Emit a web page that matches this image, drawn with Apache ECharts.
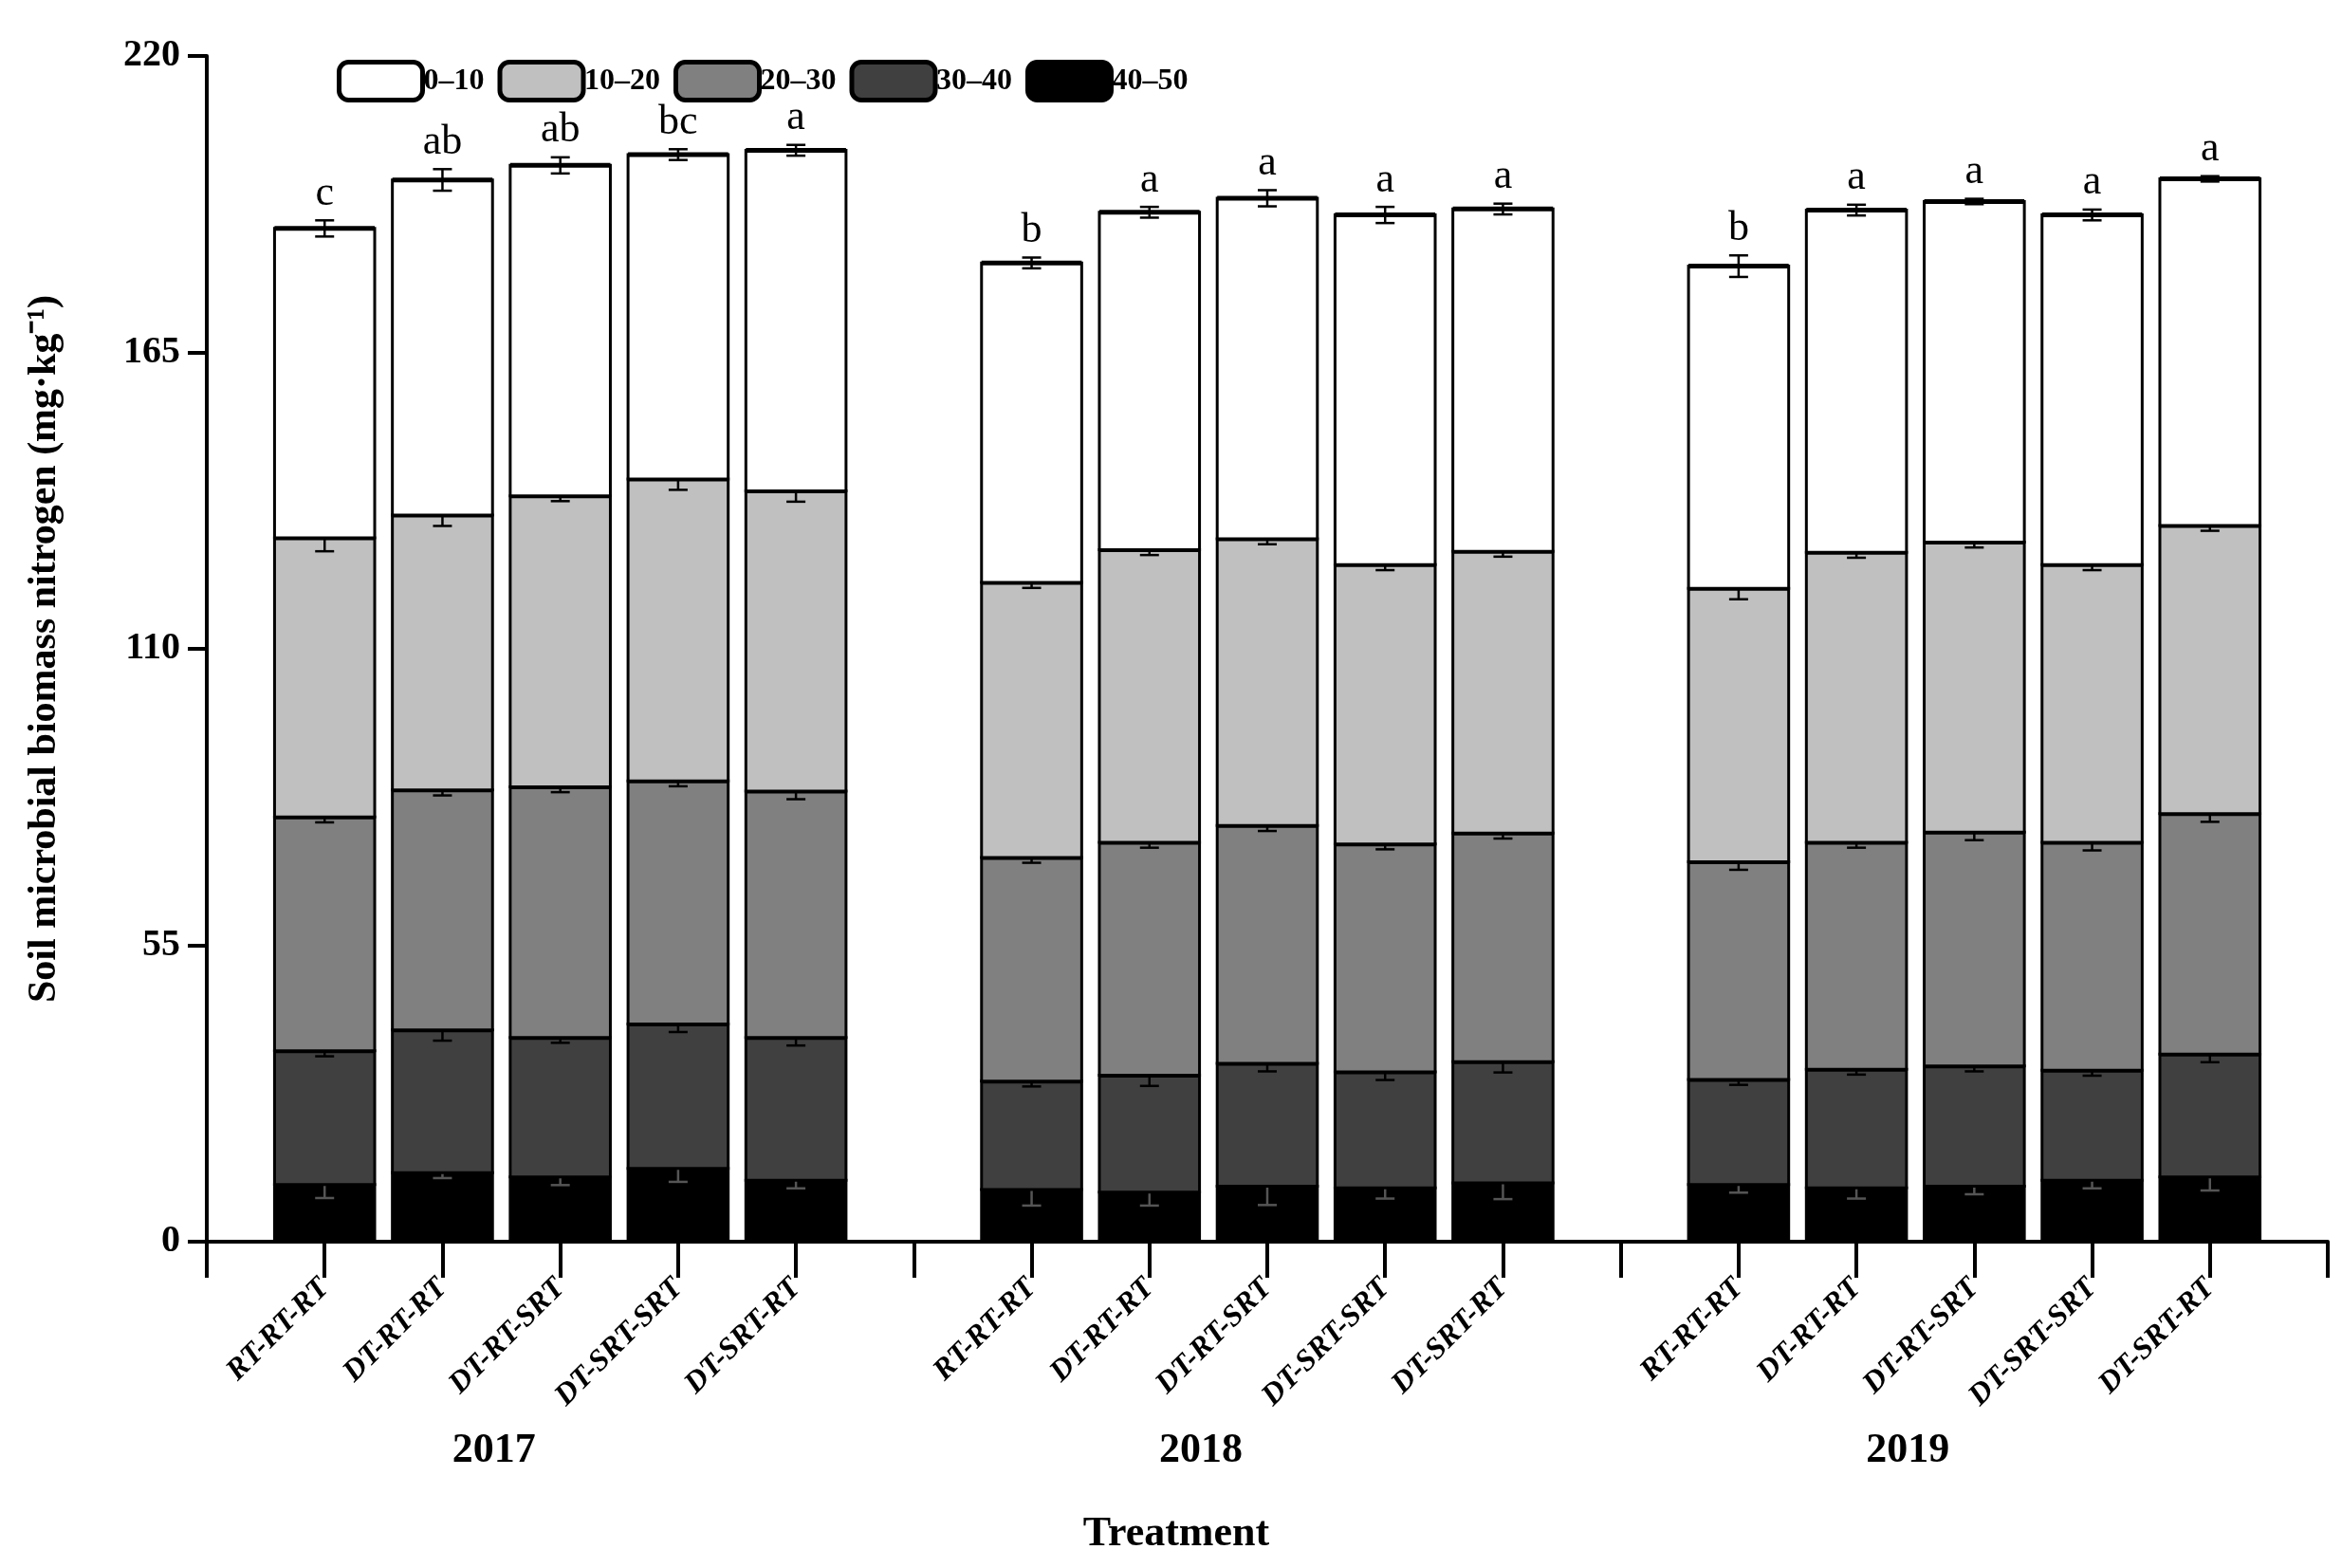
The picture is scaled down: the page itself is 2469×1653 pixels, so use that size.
<!DOCTYPE html>
<html><head><meta charset="utf-8">
<script src="https://cdn.jsdelivr.net/npm/echarts@6/dist/echarts.min.js"></script>
<style>html,body{margin:0;background:#fff}#c{width:2469px;height:1653px}</style>
</head><body><div id="c"></div>
<script>
const treatments = ['RT-RT-RT','DT-RT-RT','DT-RT-SRT','DT-SRT-SRT','DT-SRT-RT'];
const years = ['2017','2018','2019'];
const positions = [1,2,3,4,5,7,8,9,10,11,13,14,15,16,17];
const layers = ['0–10','10–20','20–30','30–40','40–50'];
const colors = ['#ffffff','#c0c0c0','#808080','#404040','#000000'];
// layer values (mg/kg), order per bar: 15 bars
const v40_50 = [10.6,12.8,12.0,13.6,11.4, 9.7,9.2,10.3,10.0,10.9, 10.6,10.0,10.3,11.4,12.0];
const v30_40 = [24.8,26.5,25.9,26.8,26.5, 20.1,21.7,22.8,21.5,22.5, 19.5,22.0,22.3,20.4,22.8];
const v20_30 = [43.4,44.5,46.5,45.1,45.7, 41.5,43.2,44.1,42.3,42.4, 40.4,42.1,43.4,42.3,44.6];
const v10_20 = [51.8,51.0,54.0,56.0,55.7, 51.0,54.3,53.2,51.8,52.3, 50.7,53.8,53.8,51.5,53.5];
const v0_10  = [57.4,62.2,61.3,60.2,63.2, 59.3,62.6,63.2,64.9,63.5, 59.8,63.5,63.2,64.9,64.3];
const e40_50 = [2.5,1.0,1.5,2.5,1.5, 3.0,2.5,3.5,2.0,3.0, 1.5,2.0,1.5,1.5,2.5];
const e30_40 = [1.0,2.0,1.0,1.5,1.5, 1.0,2.0,1.5,1.5,2.0, 1.0,1.0,1.0,1.0,1.5];
const e20_30 = [1.0,1.0,1.0,1.0,1.5, 1.0,1.0,1.0,1.0,1.0, 1.5,1.0,1.5,1.5,1.5];
const e10_20 = [2.5,2.0,1.0,2.0,2.0, 1.0,1.0,1.0,1.0,1.0, 2.0,1.0,1.0,1.0,1.0];
const e0_10  = [1.5,2.0,1.5,1.0,1.0, 1.0,1.0,1.5,1.5,1.0, 2.0,1.0,0.5,1.0,0.5];
const l40_50 = ['a','a','a','a','a', 'a','a','a','a','a', 'a','a','a','a','a'];
const l30_40 = ['b','a','ab','a','ab', 'a','a','a','a','a', 'b','a','a','b','a'];
const l20_30 = ['b','ab','a','ab','a', 'b','a','a','ab','ab', 'c','bc','ab','ab','a'];
const l10_20 = ['bc','c','ab','a','a', 'c','a','ab','bc','bc', 'c','a','a','bc','ab'];
const l0_10  = ['c','ab','ab','bc','a', 'b','a','a','a','a', 'b','a','a','a','a'];
const yTicks = [0,55,110,165,220];

const stackOrder = [
  {name:'40–50', vals:v40_50, errs:e40_50, lets:l40_50, color:colors[4]},
  {name:'30–40', vals:v30_40, errs:e30_40, lets:l30_40, color:colors[3]},
  {name:'20–30', vals:v20_30, errs:e20_30, lets:l20_30, color:colors[2]},
  {name:'10–20', vals:v10_20, errs:e10_20, lets:l10_20, color:colors[1]},
  {name:'0–10',  vals:v0_10,  errs:e0_10,  lets:l0_10,  color:colors[0]}
];
const base = positions.map(()=>0);
const series = stackOrder.map(s=>{
  const data = positions.map((p,i)=>{
    const b = base[i], t = b + s.vals[i];
    base[i] = t;
    return [p, b, t, s.errs[i], s.lets[i]];
  });
  return {
    type:'custom', name:s.name, itemStyle:{color:s.color, borderColor:'#000', borderWidth:4},
    data,
    renderItem:(params, api)=>{
      const x = api.value(0), b = api.value(1), t = api.value(2), e = api.value(3);
      const letter = data[params.dataIndex][4];
      const p0 = api.coord([x,b]), p1 = api.coord([x,t]);
      const w = api.size([0.85,0])[0];
      const pe1 = api.coord([x,t+e]), pe0 = api.coord([x,t-e]);
      const cw = 10;
      const ch = [
        {type:'rect', shape:{x:p0[0]-w/2, y:p1[1], width:w, height:p0[1]-p1[1]},
         style:{fill:s.color, stroke:'#000', lineWidth:3}},
        {type:'line', shape:{x1:p0[0]-w/2, y1:p1[1], x2:p0[0]+w/2, y2:p1[1]}, style:{stroke:'#000', lineWidth:5}},
        {type:'line', shape:{x1:p0[0], y1:pe1[1], x2:p0[0], y2:pe0[1]}, style:{stroke:s.name==='40–50'?'#555':'#000', lineWidth:2.5}},
        {type:'line', shape:{x1:p0[0]-cw, y1:pe1[1], x2:p0[0]+cw, y2:pe1[1]}, style:{stroke:s.name==='40–50'?'#555':'#000', lineWidth:2.5}},
        {type:'line', shape:{x1:p0[0]-cw, y1:pe0[1], x2:p0[0]+cw, y2:pe0[1]}, style:{stroke:s.name==='40–50'?'#555':'#000', lineWidth:2.5}},
        {type:'text', x:p0[0], y:pe1[1]-6, style:{text:letter, fill:'#000', font:'44px "Liberation Serif"', align:'center', verticalAlign:'bottom'}}
      ];
      return {type:'group', children:ch};
    }
  };
});

const chart = echarts.init(document.getElementById('c'));
const labelMap = {};
positions.forEach((p,i)=>labelMap[p]=treatments[i%5]);
chart.setOption({
  animation:false,
  grid:{left:218, right:15, top:59, bottom:344},
  legend:{left:350, top:58, itemWidth:88, itemHeight:40, itemGap:14,
    data:layers.map((n,i)=>({name:n, itemStyle:{color:colors[i], borderColor:'#000', borderWidth:5}})),
    textStyle:{fontFamily:'Liberation Serif', fontWeight:'bold', fontSize:32, color:'#000', padding:[0,0,0,-4]}},
  xAxis:{type:'value', min:0, max:18, interval:1,
    axisLine:{lineStyle:{color:'#000', width:4}},
    axisTick:{show:true, length:38, lineStyle:{color:'#000', width:4}},
    splitLine:{show:false},
    axisLabel:{rotate:45, margin:44, interval:0, formatter:v=>labelMap[v]||'',
      fontFamily:'Liberation Serif', fontWeight:'bold', fontStyle:'italic', fontSize:32, color:'#000'}},
  yAxis:{type:'value', min:0, max:220, interval:55,
    axisLine:{show:true, lineStyle:{color:'#000', width:4}},
    axisTick:{show:true, inside:false, length:20, lineStyle:{color:'#000', width:4}},
    splitLine:{show:false},
    axisLabel:{fontFamily:'Liberation Serif', fontWeight:'bold', fontSize:40, color:'#000', margin:28},
    name:'Soil microbial biomass nitrogen (mg·kg⁻¹)', nameLocation:'middle', nameGap:150,
    nameTextStyle:{fontFamily:'Liberation Serif', fontWeight:'bold', fontSize:42, color:'#000'}},
  series
});
const yc = [3,9,15];
const g = years.map((y,i)=>{
  const px = chart.convertToPixel({gridIndex:0},[yc[i],0]);
  return {type:'text', x:px[0]-70, y:1530, style:{text:y, font:'bold 44px "Liberation Serif"', fill:'#000', align:'center', verticalAlign:'middle'}};
});
g.push({type:'text', x:1240, y:1618, style:{text:'Treatment', font:'bold 44px "Liberation Serif"', fill:'#000', align:'center', verticalAlign:'middle'}});
chart.setOption({graphic:g});
</script></body></html>
